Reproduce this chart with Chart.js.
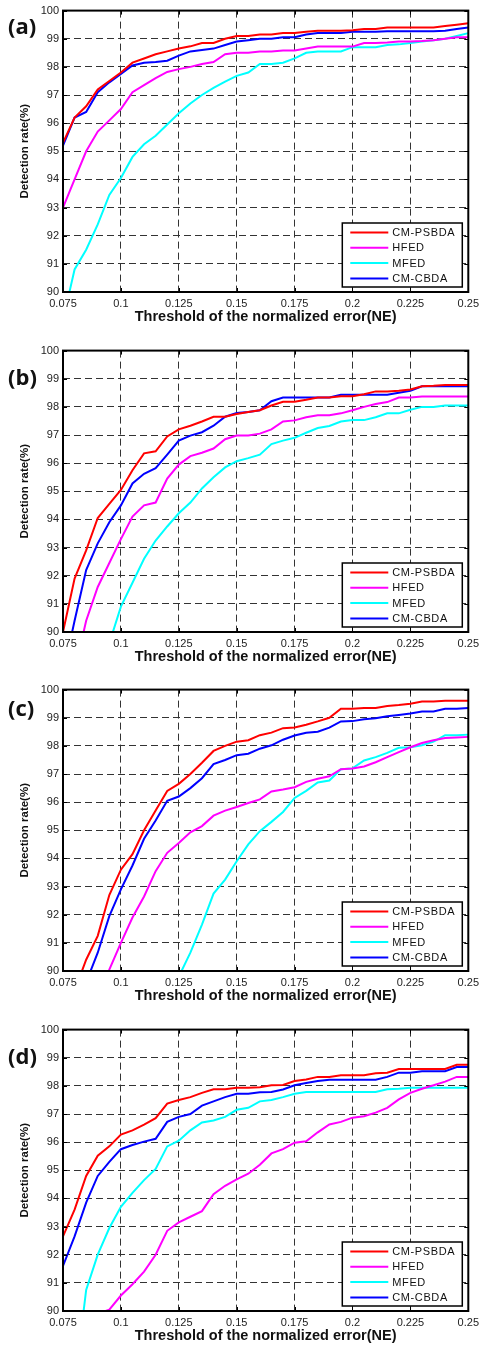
<!DOCTYPE html>
<html>
<head>
<meta charset="utf-8">
<script src="https://cdn.jsdelivr.net/npm/chart.js@4/dist/chart.umd.min.js"></script>
<style>
  html, body { margin: 0; padding: 0; background: #fff; overflow: hidden; }
  body { width: 484px; height: 1347px; position: relative; }
  .panel { position: absolute; left: 0; width: 484px; height: 340px; }
  .tag { position: absolute; left: 8px; font: bold 22px "Open Sans", "Liberation Sans", sans-serif; color: #111; }
</style>
</head>
<body>
<div class="panel" style="top:0px"><canvas id="chartA" width="484" height="340"></canvas></div>
<div class="panel" style="top:340px"><canvas id="chartB" width="484" height="340"></canvas></div>
<div class="panel" style="top:679px"><canvas id="chartC" width="484" height="340"></canvas></div>
<div class="panel" style="top:1019px"><canvas id="chartD" width="484" height="340"></canvas></div>
<div class="tag" style="top:10px">(a)</div>
<div class="tag" style="top:361px">(b)</div>
<div class="tag" style="top:692px">(c)</div>
<div class="tag" style="top:1040px">(d)</div>
<script>
// threshold of the normalized error (x axis)
const thresholds = [0.075, 0.08, 0.085, 0.09, 0.095, 0.1, 0.105, 0.11, 0.115, 0.12,
    0.125, 0.13, 0.135, 0.14, 0.145, 0.15, 0.155, 0.16, 0.165, 0.17,
    0.175, 0.18, 0.185, 0.19, 0.195, 0.2, 0.205, 0.21, 0.215, 0.22,
    0.225, 0.23, 0.235, 0.24, 0.245, 0.25];
const xTicks = [0.075, 0.1, 0.125, 0.15, 0.175, 0.2, 0.225, 0.25];
const yTicks = [90, 91, 92, 93, 94, 95, 96, 97, 98, 99, 100];
const seriesNames = ['CM-PSBDA', 'HFED', 'MFED', 'CM-CBDA'];
const seriesColors = ['#ff0000', '#ff00ff', '#00ffff', '#0000ff'];

// (a)
const aPsbda = [95.3, 96.2, 96.6, 97.2, 97.5, 97.8, 98.15, 98.3, 98.45, 98.55,
    98.65, 98.73, 98.85, 98.85, 99.0, 99.1, 99.1, 99.15, 99.15, 99.2,
    99.2, 99.25, 99.28, 99.28, 99.28, 99.3, 99.35, 99.35, 99.4, 99.4,
    99.4, 99.4, 99.4, 99.45, 99.5, 99.55];
const aHfed = [93.0, 94.0, 95.0, 95.7, 96.1, 96.5, 97.1, 97.35, 97.6, 97.82,
    97.92, 98.0, 98.1, 98.17, 98.45, 98.5, 98.5, 98.55, 98.55, 98.58,
    98.58, 98.65, 98.72, 98.72, 98.72, 98.72, 98.85, 98.85, 98.87, 98.9,
    98.9, 98.92, 98.95, 99.0, 99.05, 99.05];
const aMfed = [89.0, 90.8, 91.5, 92.4, 93.45, 94.05, 94.8, 95.25, 95.55, 95.95,
    96.35, 96.7, 97.0, 97.25, 97.48, 97.68, 97.8, 98.1, 98.1, 98.15,
    98.3, 98.5, 98.55, 98.55, 98.55, 98.7, 98.7, 98.7, 98.78, 98.8,
    98.85, 98.9, 98.95, 99.0, 99.1, 99.2];
const aCbda = [95.2, 96.2, 96.4, 97.1, 97.45, 97.75, 98.05, 98.15, 98.17, 98.22,
    98.4, 98.55, 98.6, 98.65, 98.78, 98.9, 98.95, 99.0, 99.0, 99.05,
    99.05, 99.15, 99.2, 99.2, 99.2, 99.25, 99.25, 99.25, 99.27, 99.27,
    99.27, 99.27, 99.27, 99.28, 99.35, 99.4];

// (b)
const bPsbda = [90.0, 91.9, 92.9, 94.05, 94.55, 95.05, 95.75, 96.35, 96.42, 96.95,
    97.2, 97.33, 97.48, 97.65, 97.65, 97.75, 97.82, 97.88, 98.05, 98.18,
    98.18, 98.25, 98.33, 98.33, 98.38, 98.38, 98.45, 98.55, 98.55, 98.57,
    98.62, 98.73, 98.75, 98.78, 98.78, 98.78];
const bHfed = [null, 88.6, 90.4, 91.6, 92.45, 93.3, 94.1, 94.5, 94.6, 95.45,
    95.95, 96.25, 96.37, 96.52, 96.85, 96.98, 96.98, 97.05, 97.2, 97.48,
    97.52, 97.63, 97.7, 97.7, 97.77, 97.88, 98.0, 98.1, 98.17, 98.33,
    98.33, 98.37, 98.37, 98.37, 98.37, 98.37];
const bMfed = [null, null, null, null, 89.6, 90.9, 91.75, 92.6, 93.25, 93.75,
    94.22, 94.6, 95.1, 95.5, 95.85, 96.07, 96.18, 96.3, 96.68, 96.8,
    96.9, 97.08, 97.25, 97.32, 97.48, 97.53, 97.53, 97.63, 97.77, 97.77,
    97.9, 98.0, 98.0, 98.05, 98.05, 98.05];
const bCbda = [88.5, 90.4, 92.2, 93.15, 93.9, 94.5, 95.28, 95.62, 95.82, 96.3,
    96.8, 96.98, 97.1, 97.33, 97.65, 97.78, 97.82, 97.88, 98.2, 98.33,
    98.33, 98.33, 98.33, 98.33, 98.43, 98.43, 98.43, 98.43, 98.43, 98.5,
    98.57, 98.73, 98.73, 98.73, 98.73, 98.73];

// (c)
const cPsbda = [null, 89.3, 90.4, 91.25, 92.7, 93.6, 94.15, 95.0, 95.7, 96.4,
    96.65, 97.0, 97.4, 97.82, 98.0, 98.15, 98.2, 98.38, 98.47, 98.63,
    98.65, 98.75, 98.87, 99.0, 99.32, 99.32, 99.35, 99.35, 99.42, 99.45,
    99.5, 99.58, 99.58, 99.6, 99.6, 99.6];
const cHfed = [null, null, null, 88.8, 90.05, 91.0, 91.9, 92.65, 93.55, 94.2,
    94.55, 94.93, 95.15, 95.52, 95.7, 95.83, 95.97, 96.1, 96.38, 96.45,
    96.53, 96.72, 96.83, 96.92, 97.17, 97.2, 97.27, 97.42, 97.6, 97.78,
    97.95, 98.1, 98.2, 98.28, 98.3, 98.32];
const cMfed = [null, null, null, null, null, null, null, null, null, null,
    89.8, 90.65, 91.65, 92.75, 93.25, 93.9, 94.5, 94.97, 95.3, 95.65,
    96.15, 96.4, 96.7, 96.77, 97.17, 97.2, 97.48, 97.6, 97.75, 97.93,
    97.95, 98.02, 98.15, 98.38, 98.38, 98.4];
const cCbda = [null, null, 89.6, 90.65, 91.95, 92.9, 93.75, 94.7, 95.35, 96.05,
    96.2, 96.5, 96.85, 97.35, 97.5, 97.67, 97.72, 97.9, 98.02, 98.22,
    98.37, 98.47, 98.5, 98.65, 98.87, 98.88, 98.95, 98.98, 99.05, 99.1,
    99.15, 99.22, 99.22, 99.32, 99.32, 99.35];

// (d)
const dPsbda = [92.65, 93.6, 94.8, 95.52, 95.85, 96.27, 96.42, 96.62, 96.85, 97.37,
    97.5, 97.6, 97.75, 97.88, 97.88, 97.93, 97.93, 97.95, 98.02, 98.03,
    98.17, 98.23, 98.32, 98.32, 98.38, 98.38, 98.38, 98.45, 98.47, 98.6,
    98.6, 98.6, 98.6, 98.6, 98.75, 98.75];
const dHfed = [null, null, null, 89.9, 90.05, 90.55, 90.95, 91.4, 92.0, 92.85,
    93.15, 93.35, 93.55, 94.15, 94.45, 94.68, 94.88, 95.2, 95.6, 95.75,
    95.98, 96.03, 96.35, 96.63, 96.72, 96.87, 96.92, 97.05, 97.22, 97.52,
    97.75, 97.9, 98.02, 98.15, 98.32, 98.32];
const dMfed = [null, 87.35, 90.75, 92.0, 92.95, 93.7, 94.2, 94.65, 95.05, 95.85,
    96.05, 96.42, 96.7, 96.77, 96.9, 97.15, 97.22, 97.45, 97.5, 97.6,
    97.72, 97.78, 97.78, 97.78, 97.78, 97.78, 97.78, 97.78, 97.88, 97.9,
    97.93, 97.93, 97.93, 97.93, 97.93, 97.93];
const dCbda = [91.6, 92.65, 93.85, 94.8, 95.3, 95.75, 95.9, 96.02, 96.12, 96.72,
    96.9, 97.0, 97.3, 97.45, 97.6, 97.72, 97.72, 97.77, 97.78, 97.87,
    98.02, 98.1, 98.17, 98.22, 98.22, 98.22, 98.22, 98.22, 98.32, 98.47,
    98.47, 98.52, 98.52, 98.52, 98.67, 98.67];

const FONT = '"Liberation Sans", Arial, sans-serif';

// frame, inward tick marks and the boxed legend, MATLAB style
const framePlugin = {
    id: 'frame',
    afterDraw(chart) {
        const ctx = chart.ctx;
        const a = chart.chartArea;
        const xs = chart.scales.x, ys = chart.scales.y;
        ctx.save();
        ctx.strokeStyle = '#000';
        ctx.lineWidth = 1;
        ctx.beginPath();
        xTicks.forEach(v => {
            const px = Math.round(xs.getPixelForValue(v)) + 0.5;
            ctx.moveTo(px, a.bottom); ctx.lineTo(px, a.bottom - 4);
            ctx.moveTo(px, a.top); ctx.lineTo(px, a.top + 4);
        });
        yTicks.forEach(v => {
            const py = Math.round(ys.getPixelForValue(v)) + 0.5;
            ctx.moveTo(a.left, py); ctx.lineTo(a.left + 4, py);
            ctx.moveTo(a.right, py); ctx.lineTo(a.right - 4, py);
        });
        ctx.stroke();
        ctx.lineWidth = 2;
        ctx.strokeRect(a.left, a.top, a.right - a.left, a.bottom - a.top);

        // legend
        const w = 120, h = 64;
        const lx = a.right - 6 - w, ly = a.bottom - 5 - h;
        ctx.fillStyle = '#fff';
        ctx.fillRect(lx, ly, w, h);
        ctx.lineWidth = 1.5;
        ctx.strokeRect(lx, ly, w, h);
        ctx.font = '11px ' + FONT;
        ctx.letterSpacing = '0.6px';
        ctx.textBaseline = 'middle';
        chart.data.datasets.forEach((ds, i) => {
            const ry = ly + 9.5 + i * 15.3;
            ctx.strokeStyle = ds.borderColor;
            ctx.lineWidth = 2;
            ctx.beginPath();
            ctx.moveTo(lx + 8, ry); ctx.lineTo(lx + 46, ry);
            ctx.stroke();
            ctx.fillStyle = '#111';
            ctx.fillText(ds.label, lx + 50, ry + 0.5);
        });
        ctx.restore();
    }
};

function makeChart(id, series) {
    const datasets = series.map((vals, i) => ({
        label: seriesNames[i],
        data: vals.map((v, j) => ({x: thresholds[j], y: v})),
        borderColor: seriesColors[i],
        borderWidth: 2,
        pointRadius: 0,
        tension: 0,
        fill: false
    }));
    return new Chart(document.getElementById(id), {
        type: 'line',
        data: {datasets},
        plugins: [framePlugin],
        options: {
            responsive: false,
            animation: false,
            devicePixelRatio: 1,
            layout: {padding: {left: 0, right: 14, top: 10, bottom: 0}},
            plugins: {legend: {display: false}, tooltip: {enabled: false}},
            scales: {
                x: {
                    type: 'linear', min: 0.075, max: 0.25,
                    afterBuildTicks: s => { s.ticks = xTicks.map(v => ({value: v})); },
                    afterFit: s => { s.height = 48; },
                    grid: {color: '#333', lineWidth: 1, drawTicks: false},
                    border: {display: false, dash: [7, 4]},
                    ticks: {
                        padding: 5, color: '#222', maxRotation: 0, autoSkip: false,
                        font: {family: FONT, size: 11},
                        callback: v => String(+v.toFixed(3))
                    },
                    title: {
                        display: true, text: 'Threshold of the normalized error(NE)',
                        color: '#111', font: {family: FONT, size: 14.5, weight: 'bold', lineHeight: 1.2},
                        padding: {top: 0, bottom: 14}
                    }
                },
                y: {
                    min: 90, max: 100,
                    afterBuildTicks: s => { s.ticks = yTicks.map(v => ({value: v})); },
                    afterFit: s => { s.width = 63; },
                    grid: {color: '#333', lineWidth: 1, drawTicks: false},
                    border: {display: false, dash: [7, 4]},
                    ticks: {
                        padding: 4, color: '#222',
                        font: {family: FONT, size: 11}
                    },
                    title: {
                        display: true, text: 'Detection rate(%)',
                        color: '#111', font: {family: FONT, size: 11.5, weight: 'bold', lineHeight: 1.2},
                        padding: {top: 18, bottom: 0}
                    }
                }
            }
        }
    });
}

makeChart('chartA', [aPsbda, aHfed, aMfed, aCbda]);
makeChart('chartB', [bPsbda, bHfed, bMfed, bCbda]);
makeChart('chartC', [cPsbda, cHfed, cMfed, cCbda]);
makeChart('chartD', [dPsbda, dHfed, dMfed, dCbda]);
</script>
</body>
</html>
